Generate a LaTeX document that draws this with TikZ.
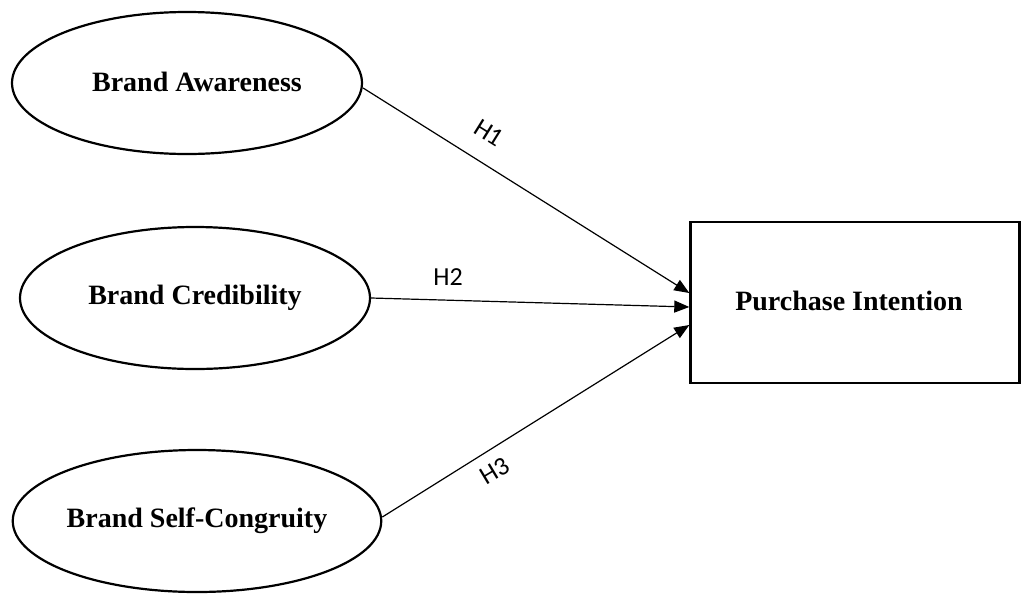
\documentclass[tikz,border=0pt]{standalone}
\usepackage{fontspec}
\setmainfont{Liberation Serif}
\newfontfamily\hfont{Carlito}
\usetikzlibrary{shapes.geometric,arrows.meta}
\begin{document}
\begin{tikzpicture}[x=1pt,y=-1pt,
  construct/.style={draw,ellipse,line width=2.2pt,minimum width=350pt,minimum height=142pt,inner sep=0pt,font=\fontsize{28}{30}\selectfont\bfseries},
  outcome/.style={draw,rectangle,line width=2.4pt,minimum width=329pt,minimum height=161pt,inner sep=0pt,font=\fontsize{28}{30}\selectfont\bfseries},
  path/.style={line width=1.2pt,-{Triangle[length=15pt,width=12pt]}},
  hyp/.style={font=\hfont\fontsize{26}{28}\selectfont,inner sep=1pt}]
\useasboundingbox (0,0) rectangle (1022,595);
\node[construct] (ba) at (187,83) {\hspace*{20pt}\raisebox{3pt}{Brand Awareness}};
\node[construct] (bc) at (195,298) {Brand Credibility};
\node[construct] (bs) at (197,521) {Brand Self-Congruity};
\node[outcome] (pi) at (855,302.5) {\raisebox{4pt}{Purchase Intention}\hspace*{12pt}};
\draw[path] ([yshift=-5pt]ba.east) -- ([yshift=9.5pt]pi.west);
\draw[path] (bc.east) -- ([yshift=-4.5pt]pi.west);
\draw[path] ([yshift=4pt]bs.east) -- ([yshift=-22.5pt]pi.west);
\node[hyp,rotate=-32] (h1) at (489,133) {H1};
\node[hyp] (h2) at (448,277) {H2};
\node[hyp,rotate=31] (h3) at (495,471) {H3};
\end{tikzpicture}
\end{document}
